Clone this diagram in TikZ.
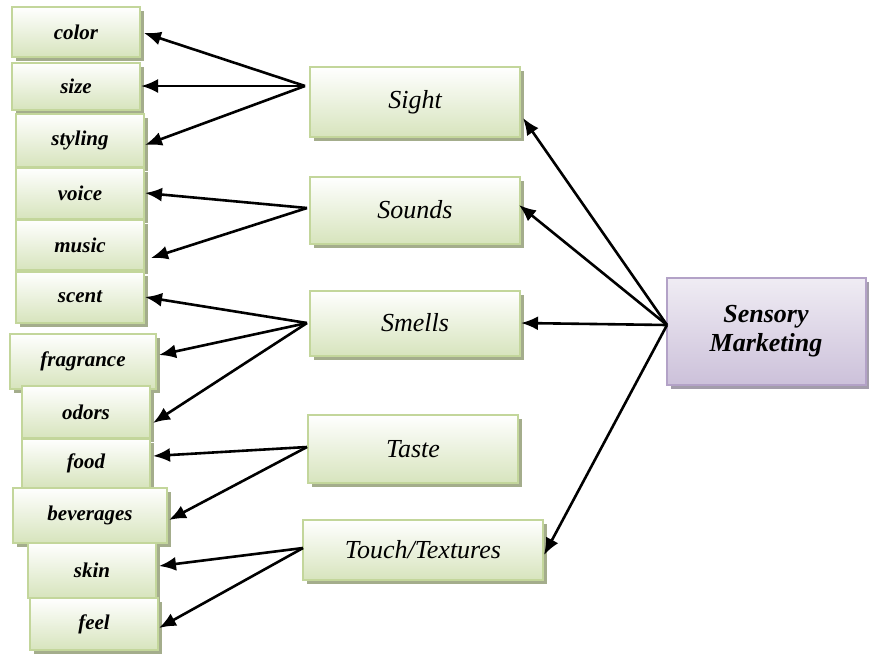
\documentclass[tikz,border=0pt]{standalone}
\usepackage{fontspec}
\setmainfont{Liberation Serif}
\newfontfamily\timesfont{Liberation Serif}
\usetikzlibrary{arrows.meta, calc, shadows}
\definecolor{leafbottom}{HTML}{D7E4BD}
\definecolor{leafborder}{HTML}{C3D69B}
\definecolor{leafshadow}{HTML}{A4AD8C}
\definecolor{rootbottom}{HTML}{CCC1DA}
\definecolor{rootborder}{HTML}{B3A2C7}
\definecolor{rootshadow}{HTML}{A39DAB}
\tikzset{
  leafbox/.style={draw=leafborder, line width=2pt, top color=white, bottom color=leafbottom,
    drop shadow={shadow xshift=4pt, shadow yshift=-4pt, fill=leafshadow, opacity=1},
    minimum width=128pt, font=\timesfont\fontsize{21}{23}\selectfont\bfseries\itshape, inner sep=0pt},
  sensebox/.style={leafbox, minimum width=210pt, font=\timesfont\fontsize{26}{29}\selectfont\itshape},
  rootbox/.style={draw=rootborder, line width=2pt, top color=white!70!rootbottom, bottom color=rootbottom,
    drop shadow={shadow xshift=4pt, shadow yshift=-4pt, fill=rootshadow, opacity=1},
    minimum width=199pt, minimum height=107pt, align=center,
    font=\timesfont\fontsize{26}{29}\selectfont\bfseries\itshape},
  link/.style={line width=2.6pt, -{Latex[length=17pt,width=14pt]}}
}
\begin{document}
\begin{tikzpicture}[x=1pt, y=-1pt]
        \useasboundingbox (0,0) rectangle (869,654);
        % Stichworte links
        \node[leafbox, minimum height=50pt] (color) at (76,32) {color};
        \node[leafbox, minimum height=47pt] (size) at (76,86) {size};
        \node[leafbox, minimum height=53pt] (styling) at (80,140) {styling};
        \node[leafbox, minimum height=51pt] (voice) at (80,193) {voice};
        \node[leafbox, minimum height=50pt] (music) at (80,245) {music};
        \node[leafbox, minimum height=51pt] (scent) at (80,297) {scent};
        \node[leafbox, minimum height=55pt, minimum width=146pt] (fragrance) at (83,361) {fragrance};
        \node[leafbox, minimum height=52pt] (odors) at (86,412) {odors};
        \node[leafbox, minimum height=49pt] (food) at (86,463) {food};
        \node[leafbox, minimum height=55pt, minimum width=154pt] (beverages) at (90,515) {beverages};
        \node[leafbox, minimum height=55pt] (skin) at (92,570) {skin};
        \node[leafbox, minimum height=52pt] (feel) at (94,624) {feel};
        % Sinne
        \node[sensebox, minimum height=70pt] (sight) at (415,102) {Sight};
        \node[sensebox, minimum height=67pt] (sounds) at (415,210) {Sounds};
        \node[sensebox, minimum height=65pt] (smells) at (415,323) {Smells};
        \node[sensebox, minimum height=68pt] (taste) at (413,449) {Taste};
        \node[sensebox, minimum height=60pt, minimum width=240pt] (touch) at (423,550) {Touch/Textures};
        % Hauptbegriff
        \node[rootbox] (root) at (766,331) {Sensory\\Marketing};
        % Verzweigungspunkte
        \coordinate (sightfan) at (305,86);
        \coordinate (soundfan) at (307,208);
        \coordinate (smellfan) at (307,323);
        \coordinate (tastefan) at (307,447);
        \coordinate (touchfan) at (303,548);
        \coordinate (rootfan) at (667,325);
        % Pfeile
        \draw[link] (rootfan) -- ($(sight.east)+(2,16)$);
        \draw[link] (rootfan) -- ($(sounds.east)+(-2,-5)$);
        \draw[link] (rootfan) -- (smells.east);
        \draw[link] (rootfan) -- ($(touch.east)+(0,5)$);
        \draw[link] (sightfan) -- ($(color.east)+(3,1)$);
        \draw[link] (sightfan) -- (size.east);
        \draw[link] (sightfan) -- ($(styling.east)+(0,5)$);
        \draw[link] (soundfan) -- (voice.east);
        \draw[link] (soundfan) -- ($(music.east)+(6,13)$);
        \draw[link] (smellfan) -- (scent.east);
        \draw[link] (smellfan) -- ($(fragrance.east)+(2,-6)$);
        \draw[link] (smellfan) -- ($(odors.east)+(2,11)$);
        \draw[link] (tastefan) -- ($(food.east)+(2,-7)$);
        \draw[link] (tastefan) -- ($(beverages.east)+(1,5)$);
        \draw[link] (touchfan) -- ($(skin.east)+(2,-4)$);
        \draw[link] (touchfan) -- ($(feel.east)+(0,4)$);
      \end{tikzpicture}
\end{document}
